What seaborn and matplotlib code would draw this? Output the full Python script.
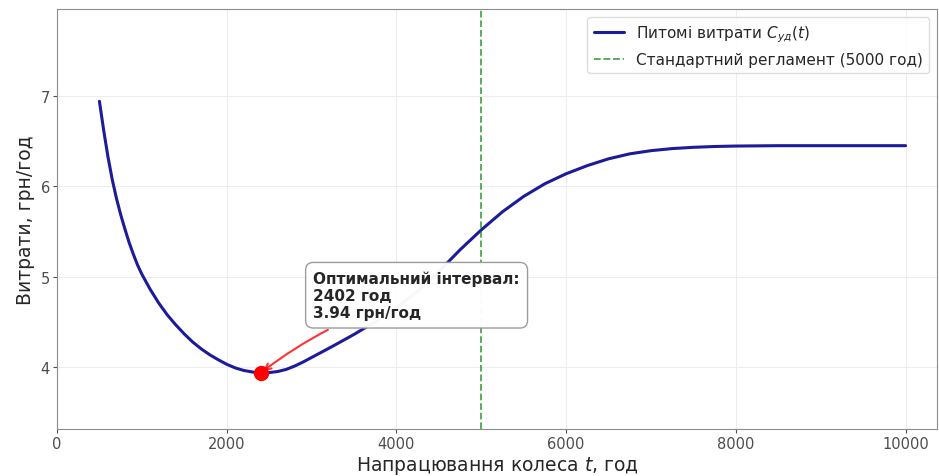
import matplotlib
matplotlib.use("Agg")
import matplotlib.pyplot as plt
import seaborn as sns
import pandas as pd

# Specific maintenance cost versus wheel operating time
hours = [500, 550, 600, 650, 700, 750, 800, 850, 900, 950, 1000, 1100, 1200,
         1300, 1400, 1500, 1600, 1700, 1800, 1900, 2000, 2100, 2200, 2300,
         2402, 2500, 2600, 2700, 2800, 2900, 3000, 3100, 3250, 3500, 3750,
         4000, 4250, 4500, 4750, 5000, 5250, 5500, 5750, 6000, 6250, 6500,
         6750, 7000, 7250, 7500, 7750, 8000, 8500, 9000, 9500, 10000]
cost = [6.94, 6.62, 6.33, 6.08, 5.87, 5.69, 5.53, 5.38, 5.25, 5.13, 5.03,
        4.86, 4.71, 4.58, 4.47, 4.37, 4.28, 4.205, 4.14, 4.085, 4.035, 3.995,
        3.967, 3.95, 3.94, 3.943, 3.955, 3.978, 4.015, 4.06, 4.11, 4.16,
        4.235, 4.365, 4.505, 4.66, 4.84, 5.06, 5.30, 5.52, 5.72, 5.89, 6.03,
        6.14, 6.23, 6.305, 6.36, 6.395, 6.418, 6.432, 6.441, 6.446, 6.45,
        6.45, 6.45, 6.45]

opt_hours = 2402
opt_cost = 3.94
standard_hours = 5000

df = pd.DataFrame({"t": hours, "c": cost})

sns.set_style("whitegrid", {
    "axes.edgecolor": "0.55",
    "grid.color": "0.93",
    "xtick.bottom": True,
    "ytick.left": True,
    "xtick.color": "0.3",
    "ytick.color": "0.3",
    "text.color": "0.15",
    "axes.labelcolor": "0.15",
})
plt.rcParams["font.family"] = ["DejaVu Sans"]

fig = plt.figure(figsize=(9.39, 4.77), dpi=100)
ax = fig.add_axes([57 / 939, 1 - 430 / 477, 880 / 939, 420 / 477])

sns.lineplot(data=df, x="t", y="c", ax=ax, color="#1c1c9a", linewidth=2.2,
             label=r"Питомі витрати $C_{уд}(t)$")
ax.axvline(standard_hours, color="green", linestyle="--", linewidth=1.3,
           alpha=0.7, label="Стандартний регламент (5000 год)")

ax.plot([opt_hours], [opt_cost], "o", color="red", markersize=10, zorder=5)
ax.annotate(
    f"Оптимальний інтервал:\n{opt_hours} год\n{opt_cost:.2f} грн/год",
    xy=(opt_hours, opt_cost), xytext=(3020, 4.52),
    ha="left", va="bottom", fontsize=11, fontweight="bold",
    bbox=dict(boxstyle="round,pad=0.5", facecolor="white", edgecolor="0.6",
              alpha=0.97),
    arrowprops=dict(arrowstyle="->", color="red", lw=1.5, alpha=0.8,
                    connectionstyle="arc3,rad=0.1"),
    zorder=6,
)

ax.set_xlim(0, 10370)
ax.set_ylim(3.32, 7.96)
ax.set_xticks([0, 2000, 4000, 6000, 8000, 10000])
ax.set_yticks([4, 5, 6, 7])
ax.tick_params(labelsize=10.5, length=3, width=0.8, pad=2)
ax.set_xlabel("Напрацювання колеса $t$, год", fontsize=13.5, labelpad=2)
ax.set_ylabel("Витрати, грн/год", fontsize=13.5, labelpad=4)

ax.legend(loc="upper right", fontsize=11, frameon=True, fancybox=True,
          edgecolor="0.85", facecolor="white", framealpha=0.9)

fig.savefig("out.png", dpi=100)
